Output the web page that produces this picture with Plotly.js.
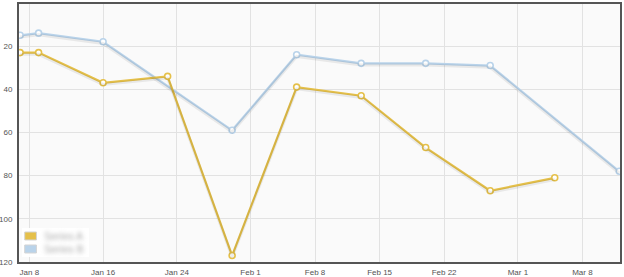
<!DOCTYPE html>
<html><head><meta charset="utf-8">
<script src="https://cdn.plot.ly/plotly-3.0.1.min.js"></script>
<style>
html,body{margin:0;padding:0;background:#fff;}
#chart{width:624px;height:277px;}
.annotation-text{filter:blur(2.3px);}
</style>
</head><body><div id="chart"></div>
<script>
// Series A (yellow)
const datesA = ['2012-01-07','2012-01-09','2012-01-16','2012-01-23','2012-01-30','2012-02-06','2012-02-13','2012-02-20','2012-02-27','2012-03-05'];
const valuesA = [23, 23, 37, 34, 117, 39, 43, 67, 87, 81];
// Series B (blue)
const datesB = ['2012-01-07','2012-01-09','2012-01-16','2012-01-30','2012-02-06','2012-02-13','2012-02-20','2012-02-27','2012-03-12'];
const valuesB = [15, 14, 18, 59, 24, 28, 28, 29, 78];
const seriesNames = ['Series A', 'Series B'];
const xTickVals = ['2012-01-08','2012-01-16','2012-01-24','2012-02-01','2012-02-08','2012-02-15','2012-02-22','2012-03-01','2012-03-08'];
const xTickText = ['Jan 8','Jan 16','Jan 24','Feb 1','Feb 8','Feb 15','Feb 22','Mar 1','Mar 8'];
const yTickVals = [20, 40, 60, 80, 100, 120];

const colA = '#e5c04a', colB = '#b9d3ea';
const colors = [colA, colB];
const yRange = [120, 0.5];
const shadowShift = 0.8;

function shadow(x, y) {
  return {x: x, y: y, yaxis: 'y2', mode: 'lines', hoverinfo: 'skip', showlegend: false,
    line: {color: 'rgba(0,0,0,0.07)', width: 3}};
}
function series(x, y, c, n) {
  return {x: x, y: y, name: n, mode: 'lines+markers', showlegend: false,
    line: {color: c, width: 2.2},
    marker: {symbol: 'circle', size: 6, color: '#ffffff', line: {color: c, width: 1.6}}};
}
const traces = [
  shadow(datesB, valuesB), shadow(datesA, valuesA),
  series(datesB, valuesB, colB, seriesNames[1]), series(datesA, valuesA, colA, seriesNames[0])
];

// legend drawn in paper coordinates (flot-style colour boxes)
const shapes = [
  {type: 'rect', xref: 'paper', yref: 'paper', x0: 0.005, x1: 0.1165, y0: 0.0194, y1: 0.1318,
   fillcolor: 'rgba(255,255,255,0.92)', line: {width: 0}, layer: 'above'}
];
const annotations = [];
const rowsY = [[0.0853, 0.1163], [0.0349, 0.0659]];
seriesNames.forEach(function (n, i) {
  shapes.push({type: 'rect', xref: 'paper', yref: 'paper', x0: 0.0095, x1: 0.029,
    y0: rowsY[i][0], y1: rowsY[i][1], fillcolor: colors[i],
    line: {color: '#d4d4d4', width: 1}, layer: 'above'});
  annotations.push({xref: 'paper', yref: 'paper', x: 0.038, y: (rowsY[i][0] + rowsY[i][1]) / 2,
    xanchor: 'left', yanchor: 'middle', showarrow: false, text: n,
    font: {size: 10.5, color: '#aaaaaa'}});
});

const layout = {
  width: 624, height: 277,
  margin: {l: 19, r: 4, t: 4, b: 15, pad: 0},
  paper_bgcolor: '#ffffff', plot_bgcolor: '#fafafa',
  font: {family: 'Liberation Sans, Arial, sans-serif', size: 8, color: '#545454'},
  xaxis: {type: 'date', range: ['2012-01-06 21:00', '2012-03-12 02:00'],
    tickmode: 'array', tickvals: xTickVals, ticktext: xTickText,
    showgrid: true, gridcolor: '#e2e2e2', gridwidth: 1, zeroline: false,
    showline: true, mirror: true, linecolor: '#555555', linewidth: 2,
    ticks: '', ticklabelstandoff: 1, tickfont: {size: 8, color: '#545454'}},
  yaxis: {range: yRange, tickmode: 'array', tickvals: yTickVals,
    showgrid: true, gridcolor: '#e2e2e2', gridwidth: 1, zeroline: false,
    showline: true, mirror: true, linecolor: '#555555', linewidth: 2,
    ticks: '', ticklabelstandoff: 3, tickfont: {size: 8, color: '#545454'}},
  yaxis2: {range: [yRange[0] - shadowShift, yRange[1] - shadowShift], overlaying: 'y',
    visible: false, showgrid: false},
  shapes: shapes,
  annotations: annotations,
  showlegend: false
};
Plotly.newPlot('chart', traces, layout, {displayModeBar: false, staticPlot: true});
</script>
</body></html>
